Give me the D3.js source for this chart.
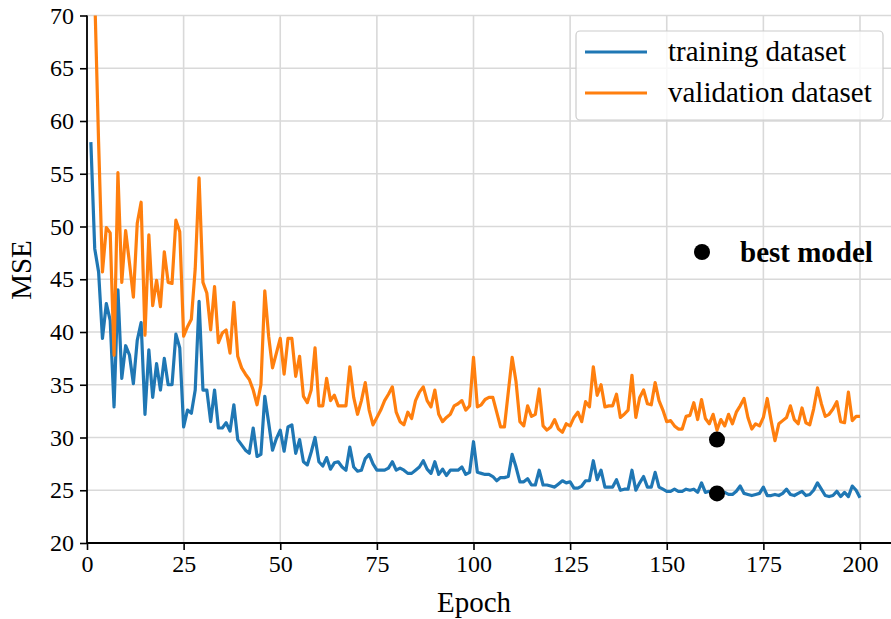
<!DOCTYPE html>
<html>
<head>
<meta charset="utf-8">
<script src="https://cdn.jsdelivr.net/npm/d3@7/dist/d3.min.js"></script>
<style>
  html, body { margin: 0; padding: 0; background: #fff; }
  svg { display: block; }
  svg text { font-family: "Liberation Serif", "Times New Roman", serif; }
</style>
</head>
<body>
<svg id="chart" width="891" height="619"></svg>
<script>
// MSE per epoch (epochs 1..200)
const trainingMSE = [
  58, 47.9, 45.7, 39.4, 42.7, 41.1, 32.9, 44, 35.6, 38.7, 37.8, 35.1, 39.2, 40.9, 32.2, 38.3, 33.8, 37, 34.5, 37.5, 35, 35, 39.8, 38.5, 31,
  32.6, 32.3, 34.5, 42.9, 34.5, 34.5, 31.5, 34.5, 30.9, 30.9, 31.4, 30.6, 33.1, 29.8, 29.3, 28.8, 28.5, 30.9, 28.2, 28.4, 33.9, 31.4, 28.8, 29.9, 30.7,
  28.7, 31, 31.2, 28.5, 29.8, 27.7, 27.4, 28.6, 30, 27.7, 27.3, 28.1, 27, 27.6, 27.7, 27.2, 26.9, 29.1, 27.2, 26.8, 26.9, 28, 28.4, 27.5, 26.9,
  26.9, 26.9, 27.1, 27.7, 26.9, 27.1, 26.9, 26.6, 26.6, 26.9, 27.2, 27.8, 27, 26.6, 27.7, 26.5, 27, 26.4, 26.9, 26.9, 26.9, 27.2, 26.5, 26.7, 29.6,
  26.7, 26.6, 26.5, 26.5, 26.3, 25.9, 26.2, 26.2, 26.3, 28.4, 27.2, 25.8, 25.8, 26.1, 25.5, 25.5, 26.9, 25.5, 25.5, 25.4, 25.3, 25.6, 25.9, 25.7, 25.8,
  25.2, 25.2, 25.4, 25.9, 25.9, 27.8, 26, 26.9, 25.3, 25.3, 25.3, 26, 25, 25.1, 25.1, 26.9, 25, 25.7, 26.3, 25.3, 25.3, 26.7, 25.3, 25.1, 24.9,
  24.9, 25.1, 24.9, 24.9, 25.1, 25, 25.1, 24.8, 25.7, 24.8, 24.9, 24.7, 24.7, 24.6, 24.8, 24.6, 24.6, 24.9, 25.4, 24.7, 24.6, 24.5, 24.6, 24.7,
  25.3, 24.5, 24.5, 24.6, 24.5, 24.7, 25.1, 24.6, 24.5, 24.7, 24.9, 24.5, 24.6, 25.0, 25.7, 25.1, 24.5, 24.4, 24.5, 24.9, 24.4, 24.8, 24.4, 25.4, 25.0,
  24.3
];
const validationMSE = [
  90, 72, 58, 45.7, 49.9, 49.4, 37.8, 55.1, 44.7, 49.6, 46.5, 43.3, 50.3, 52.3, 39.7, 49.2, 42.5, 44.9, 42.4, 47.6, 44.7, 44.6, 50.6, 49.5, 39.6,
  40.5, 41.2, 46, 54.6, 44.7, 43.7, 40.2, 44.3, 39, 39.9, 40.2, 38, 42.8, 37.7, 36.6, 36, 35.5, 34.5, 33.1, 35, 43.9, 39.6, 36.6, 38, 39.4,
  36, 39.4, 39.4, 35.8, 37.7, 33.9, 33.3, 34.5, 38.5, 33, 33, 35.6, 33.5, 34, 33, 33, 33, 36.7, 33.8, 32.2, 33.5, 35.2, 32.6, 31.2, 31.9,
  32.6, 33.5, 34.1, 34.8, 32.4, 31.5, 31.2, 32.4, 31.8, 33.5, 34.3, 34.8, 33.5, 32.9, 34.5, 32.2, 31.5, 31.9, 32.2, 33, 33.2, 33.5, 32.6, 33, 37.6,
  32.9, 33.1, 33.6, 33.8, 33.8, 32.4, 31, 31, 34.3, 37.6, 35.3, 31.5, 31.1, 33, 32, 32.2, 34.6, 31.1, 30.7, 31, 31.7, 30.8, 30.5, 31.3, 31.1,
  31.9, 32.4, 31.5, 33.4, 32.9, 36.7, 34, 35, 32.9, 33, 33, 34.1, 31.9, 32.2, 32.6, 35.9, 31.9, 33.8, 34.5, 33.2, 33.1, 35.2, 33.5, 32.6, 31.5,
  31.6, 31.1, 30.8, 30.8, 32, 32.1, 33.3, 31.7, 33.6, 31.8, 31.3, 32.2, 30.7, 31.7, 31.1, 32.2, 31.3, 32.4, 33, 33.7, 31.9, 30.8, 31.3, 31.1,
  31.9, 33.7, 31.6, 29.7, 31.3, 31.6, 31.9, 33, 31.7, 31.3, 32.8, 31.4, 31.2, 32.7, 34.7, 33.2, 32, 32.2, 32.7, 33.4, 31.5, 31.4, 34.3, 31.6, 32,
  32
];
const epochs = trainingMSE.map((_, i) => i + 1);

// selected checkpoint markers
const bestEpoch = [163, 163];
const bestMSE = [29.8, 24.7];

const xTicks = [0, 25, 50, 75, 100, 125, 150, 175, 200];
const yTicks = [20, 25, 30, 35, 40, 45, 50, 55, 60, 65, 70];
const seriesNames = ["training dataset", "validation dataset"];
const seriesColors = ["#1f77b4", "#ff7f0e"];

// ---- layout ----
const W = 891, H = 619;
const plot = { left: 87, right: 891, top: 15.5, bottom: 543 };
const serif = "'Liberation Serif', 'Times New Roman', serif";

const svg = d3.select("#chart");
const x = d3.scaleLinear().domain([0, 200]).range([plot.left, 860]);
const y = d3.scaleLinear().domain([20, 70]).range([plot.bottom, plot.top]);

// grid
const grid = svg.append("g").attr("stroke", "#d9d9d9").attr("stroke-width", 1.6);
grid.selectAll(".gx").data(xTicks).join("line")
  .attr("x1", d => x(d)).attr("x2", d => x(d))
  .attr("y1", plot.top).attr("y2", plot.bottom);
grid.selectAll(".gy").data(yTicks).join("line")
  .attr("x1", plot.left).attr("x2", plot.right)
  .attr("y1", d => y(d)).attr("y2", d => y(d));

// clip for the curves
svg.append("clipPath").attr("id", "plotclip").append("rect")
  .attr("x", plot.left).attr("y", plot.top)
  .attr("width", plot.right - plot.left).attr("height", plot.bottom - plot.top);

const line = d3.line().x((d, i) => x(epochs[i])).y(d => y(d));
const curves = svg.append("g").attr("clip-path", "url(#plotclip)");
[trainingMSE, validationMSE].forEach((s, k) => {
  curves.append("path").datum(s)
    .attr("fill", "none")
    .attr("stroke", seriesColors[k])
    .attr("stroke-width", 3.2)
    .attr("stroke-linejoin", "round")
    .attr("d", line);
});

// best-model markers
svg.append("g").selectAll("circle").data(bestEpoch).join("circle")
  .attr("cx", d => x(d)).attr("cy", (d, i) => y(bestMSE[i]))
  .attr("r", 8).attr("fill", "#000");

// axes
const xAxis = d3.axisBottom(x).tickValues(xTicks).tickSize(7).tickPadding(5).tickSizeOuter(0);
const yAxis = d3.axisLeft(y).tickValues(yTicks).tickSize(7).tickPadding(6).tickSizeOuter(0);

const gx = svg.append("g").attr("transform", `translate(0,${plot.bottom})`).call(xAxis);
const gy = svg.append("g").attr("transform", `translate(${plot.left},0)`).call(yAxis);
[gx, gy].forEach(g => {
  g.attr("font-family", serif).attr("font-size", 24);
  g.select(".domain").remove();
  g.selectAll(".tick line").attr("stroke", "#000").attr("stroke-width", 1.6);
  g.selectAll(".tick text").attr("fill", "#000")
    .attr("font-family", serif).attr("font-size", 24);
});

// spines
svg.append("line").attr("x1", plot.left).attr("x2", plot.left)
  .attr("y1", plot.top).attr("y2", plot.bottom)
  .attr("stroke", "#000").attr("stroke-width", 1.8);
svg.append("line").attr("x1", plot.left).attr("x2", plot.right)
  .attr("y1", plot.bottom).attr("y2", plot.bottom)
  .attr("stroke", "#000").attr("stroke-width", 1.8);

// axis titles
svg.append("text").attr("x", 474).attr("y", 612).attr("text-anchor", "middle")
  .attr("font-family", serif).attr("font-size", 29).text("Epoch");
svg.append("text").attr("transform", "translate(31,270) rotate(-90)")
  .attr("text-anchor", "middle").attr("font-family", serif).attr("font-size", 29).text("MSE");

// legend
const lg = svg.append("g");
lg.append("rect").attr("x", 576).attr("y", 31).attr("width", 307).attr("height", 89)
  .attr("rx", 4).attr("fill", "#fff").attr("fill-opacity", 0.8)
  .attr("stroke", "#cccccc").attr("stroke-width", 1.2);
seriesNames.forEach((name, k) => {
  const cy = 52 + k * 41;
  lg.append("line").attr("x1", 585).attr("x2", 647).attr("y1", cy).attr("y2", cy)
    .attr("stroke", seriesColors[k]).attr("stroke-width", 3.2);
  lg.append("text").attr("x", 668).attr("y", cy + 9)
    .attr("font-family", serif).attr("font-size", 29).text(name);
});

// best-model annotation
svg.append("circle").attr("cx", 702).attr("cy", 252).attr("r", 8).attr("fill", "#000");
svg.append("text").attr("x", 740).attr("y", 262)
  .attr("font-family", serif).attr("font-size", 29).attr("font-weight", "bold").text("best model");
</script>
</body>
</html>
